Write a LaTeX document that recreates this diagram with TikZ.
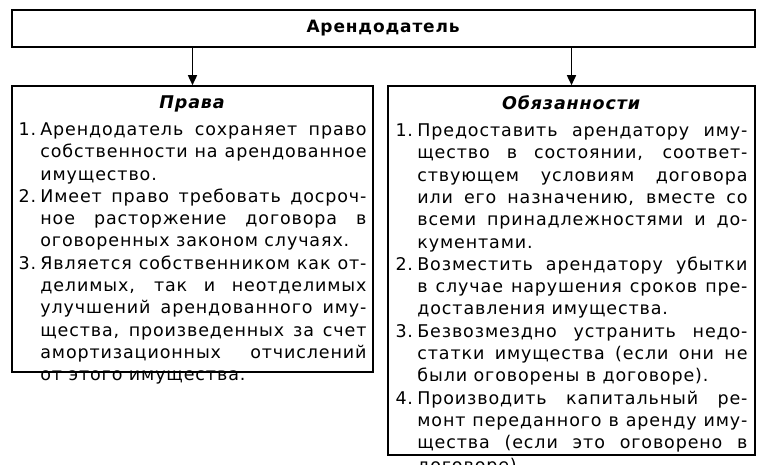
\documentclass[tikz,border=0pt]{standalone}
\usepackage{fontspec}
\setmainfont{DejaVu Sans}[LetterSpace=5]
\usetikzlibrary{positioning,arrows.meta}
\setlength{\parskip}{0pt}
\newcommand{\itm}[2]{\par\hangindent=1.25em\hangafter=1\makebox[1.25em][l]{#1}#2\par}
\begin{document}
\begin{tikzpicture}[x=1pt,y=1pt,
    frame/.style={draw,line width=1.6pt,rectangle,inner sep=0pt},
    body/.style={anchor=north,align=justify,inner sep=0pt,
      font=\fontsize{17.5}{22.3}\selectfont},
    link/.style={line width=1.6pt,-{Triangle[width=9pt,length=10pt]}}]
  \useasboundingbox (0,0) rectangle (765,-464);
  \node (head) [frame,minimum width=743,minimum height=37] at (383.5,-28.5)
    {\fontsize{17}{20}\selectfont\textbf{Арендодатель}};
  \node (rights) [frame,minimum width=361,minimum height=286] at (192.5,-229) {};
  \node (duties) [frame,minimum width=367,minimum height=369] at (571.5,-270.5) {};
  \draw[link] (head.south -| rights.north) -- (rights.north);
  \draw[link] (head.south -| duties.north) -- (duties.north);
  % contents
  \node [body,text width=348] at ([yshift=-10]rights.north) {%
    \centerline{\textbf{\textit{Права}}}\vspace{5pt}%
    \itm{1.}{Арендодатель сохраняет право\linebreak собственности на арендованное имущество.}
    \itm{2.}{Имеет право требовать досроч-\linebreak ное расторжение договора в\linebreak оговоренных законом случаях.}
    \itm{3.}{Является собственником как от-\linebreak делимых, так и неотделимых\linebreak улучшений арендованного иму-\linebreak щества, произведенных за счет\linebreak амортизационных отчислений\linebreak от этого имущества.}};
  \node [body,text width=352] at ([yshift=-10]duties.north) {%
    \centerline{\textbf{\textit{Обязанности}}}\vspace{5pt}%
    \itm{1.}{Предоставить арендатору иму-\linebreak щество в состоянии, соответ-\linebreak ствующем условиям договора\linebreak или его назначению, вместе со\linebreak всеми принадлежностями и до-\linebreak кументами.}
    \itm{2.}{Возместить арендатору убытки\linebreak в случае нарушения сроков пре-\linebreak доставления имущества.}
    \itm{3.}{Безвозмездно устранить недо-\linebreak статки имущества (если они не\linebreak были оговорены в договоре).}
    \itm{4.}{Производить капитальный ре-\linebreak монт переданного в аренду иму-\linebreak щества (если это оговорено в\linebreak договоре).}};
\end{tikzpicture}
\end{document}
